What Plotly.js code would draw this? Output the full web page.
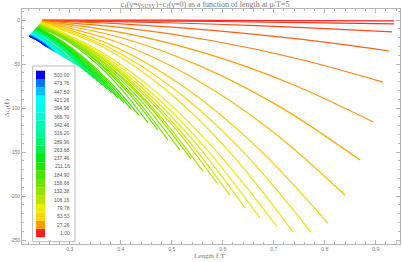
<!DOCTYPE html>
<html><head><meta charset="utf-8">
<script src="https://cdn.plot.ly/plotly-3.0.1.min.js"></script>
<style>html,body{margin:0;padding:0;background:#fff;} #chart{width:402px;height:262px;}</style>
</head><body><div id="chart"></div><script>
// Length ℓT sample points for each curve (red first, blue last)
const curveLengths = [
[0.2457,0.4183,0.5909,0.7634,0.936],
[0.2457,0.4183,0.5909,0.7634,0.936],
[0.2457,0.4173,0.5889,0.7604,0.932],
[0.2457,0.4158,0.5859,0.7559,0.926],
[0.2457,0.4128,0.5799,0.7469,0.914],
[0.2457,0.408,0.5704,0.7327,0.895],
[0.2457,0.4015,0.5574,0.7132,0.869],
[0.2451,0.3938,0.5426,0.6913,0.840],
[0.2445,0.3849,0.5253,0.6656,0.806],
[0.2439,0.3762,0.5085,0.6407,0.773],
[0.2433,0.367,0.4907,0.6143,0.738],
[0.2427,0.3588,0.4749,0.5909,0.707],
[0.2421,0.3498,0.4576,0.5653,0.673],
[0.2415,0.3421,0.4428,0.5434,0.644],
[0.241,0.3343,0.4275,0.5208,0.614],
[0.2404,0.3276,0.4147,0.5019,0.589],
[0.2398,0.3201,0.4004,0.4807,0.561],
[0.2392,0.3139,0.3886,0.4633,0.538],
[0.2386,0.308,0.3773,0.4467,0.516],
[0.238,0.3018,0.3655,0.4293,0.493],
[0.2374,0.2963,0.3552,0.4141,0.473],
[0.2368,0.291,0.3452,0.3993,0.4535],
[0.2362,0.2862,0.3361,0.3861,0.436],
[0.2356,0.2817,0.3278,0.3739,0.42],
[0.235,0.2779,0.3208,0.3636,0.4065],
[0.2344,0.2745,0.3146,0.3546,0.3947],
[0.2338,0.2711,0.3084,0.3457,0.383],
[0.2332,0.2682,0.3031,0.3381,0.373],
[0.2327,0.2654,0.298,0.3307,0.3633],
[0.2321,0.263,0.2938,0.3247,0.3555],
[0.2315,0.2605,0.2896,0.3186,0.3476],
[0.2309,0.2581,0.2854,0.3126,0.3398],
[0.2303,0.2557,0.2812,0.3066,0.332],
[0.2297,0.2538,0.2779,0.3019,0.326],
[0.2291,0.2519,0.2747,0.2974,0.3202],
[0.2285,0.2714,0.3143],
[0.2279,0.2682,0.3084],
[0.2273,0.2649,0.3025],
[0.2267,0.2617,0.2967],
[0.2261,0.2594,0.2927],
[0.2255,0.2572,0.2888],
[0.2249,0.2549,0.2849],
[0.2244,0.2527,0.281],
[0.2238,0.2505,0.2771],
[0.2232,0.2482,0.2731],
[0.2226,0.2459,0.2692],
[0.222,0.2437,0.2653],
[0.2214,0.2414,0.2614],
[0.2208,0.2392,0.2575],
[0.2202,0.2369,0.2535]
];
// Δc_ℓ values for each curve
const curveDeltaC = [
[0,-0.13,-0.36,-0.68,-1.1],
[-0.4,-0.89,-1.73,-2.94,-4.5],
[-0.6,-2.15,-4.83,-8.65,-13.6],
[-0.8,-4.9,-12.0,-22.1,-35.2],
[-1.0,-9.3,-23.6,-44.0,-70.5],
[-1.2,-14.9,-38.5,-72.2,-115.9],
[-1.4,-20.2,-52.7,-99.0,-159.1],
[-1.8,-25.3,-65.9,-123.8,-198.9],
[-2.2,-29.4,-76.5,-143.6,-230.7],
[-2.6,-31.0,-80.1,-150.1,-240.9],
[-3.0,-31.3,-80.3,-150.3,-240.9],
[-3.4,-35.3,-84.5,-151.2,-235.2],
[-3.8,-34.2,-81.2,-144.8,-225.0],
[-4.2,-33.0,-77.5,-137.7,-213.6],
[-4.6,-31.3,-72.6,-128.5,-198.9],
[-5.0,-29.8,-68.1,-119.9,-185.2],
[-5.4,-28.3,-63.6,-111.4,-171.6],
[-5.7,-26.6,-59.0,-102.8,-158.0],
[-6.1,-25.6,-55.7,-96.4,-147.7],
[-6.5,-24.4,-52.0,-89.3,-136.4],
[-6.9,-23.1,-48.2,-82.2,-125.0],
[-7.3,-22.4,-45.7,-77.2,-117.0],
[-7.7,-24.4,-46.7,-74.7,-108.4],
[-8.1,-23.5,-44.1,-69.9,-100.9],
[-8.5,-22.7,-41.8,-65.7,-94.4],
[-8.9,-22.2,-39.9,-62.2,-88.9],
[-9.3,-21.5,-37.9,-58.5,-83.2],
[-9.7,-21.1,-36.4,-55.5,-78.5],
[-10.1,-20.7,-34.8,-52.6,-73.9],
[-10.5,-20.4,-33.6,-50.2,-70.1],
[-10.9,-20.1,-32.4,-47.8,-66.4],
[-11.3,-19.8,-31.2,-45.5,-62.7],
[-11.7,-19.5,-30.0,-43.2,-59.0],
[-12.1,-19.4,-29.2,-41.5,-56.3],
[-12.5,-19.3,-28.4,-39.7,-53.4],
[-12.9,-29.3,-51.4],
[-13.3,-28.6,-49.3],
[-13.7,-27.9,-47.2],
[-14.1,-27.3,-45.1],
[-14.4,-26.9,-43.8],
[-14.8,-26.5,-42.4],
[-15.2,-26.2,-41.0],
[-15.6,-25.8,-39.6],
[-16.0,-25.4,-38.2],
[-16.4,-25.1,-36.8],
[-16.8,-24.8,-35.5],
[-17.2,-24.4,-34.1],
[-17.6,-24.0,-32.7],
[-18.0,-23.7,-31.3],
[-18.4,-23.3,-29.9]
];
// legend labels, bottom (1.00) to top (500.00)
const legendLabels = ['1.00','27.26','53.53','79.78','106.16','132.38','158.66','184.90','211.16','237.46',
  '263.68','289.96','316.20','342.46','368.70','394.96','421.26','447.50','473.76','500.00'];
const xTickVals = [0.3,0.4,0.5,0.6,0.7,0.8,0.9];
const yTickVals = [0,-50,-100,-150,-200,-250];

// style palette (bottom to top of the legend)
const palette = ['#ff2020','#ff9c00','#ffd600','#ecee00','#bce600','#94e400','#6ce400','#46e400','#22e600','#00e818',
  '#00f048','#00f474','#00f896','#00fab4','#00fcd0','#00fde8','#00ffff','#00c0ff','#0078ff','#0000ff'];

function hexRgb(h){return [parseInt(h.substr(1,2),16),parseInt(h.substr(3,2),16),parseInt(h.substr(5,2),16)];}
function paletteAt(f){
  const p = f*(palette.length-1); const i = Math.min(Math.floor(p), palette.length-2); const t = p-i;
  const a = hexRgb(palette[i]), b = hexRgb(palette[i+1]);
  return 'rgb('+a.map((v,k)=>Math.round(v+(b[k]-v)*t)).join(',')+')';
}

const N = curveLengths.length;
const traces = curveLengths.map((xs,i)=>({
  x: xs, y: curveDeltaC[i], type:'scatter', mode:'lines',
  line:{color: paletteAt(Math.pow(i/(N-1),1.3)), width:1.2, shape:'spline'},
  hoverinfo:'skip', showlegend:false
}));

const W=402,H=262,ML=22,MR=2,MT=9,MB=18;
const pw=W-ML-MR, ph=H-MT-MB;
const pxX = p => (p-ML)/pw;
const pxY = p => (H-MB-p)/ph;

const shapes = [{type:'rect', xref:'paper', yref:'paper', x0:pxX(32.7), x1:pxX(75), y0:pxY(241.7), y1:pxY(66),
  fillcolor:'#ffffff', line:{color:'#bbbbbb', width:1}, layer:'above'}];
const annotations = [];
const rowH = (237.3-70.7)/legendLabels.length;
legendLabels.forEach((lab,j)=>{
  const top = 237.3 - (j+1)*rowH;
  shapes.push({type:'rect', xref:'paper', yref:'paper', x0:pxX(36), x1:pxX(45), y0:pxY(top+rowH), y1:pxY(top),
    fillcolor: palette[j], line:{width:0}, layer:'above'});
  annotations.push({xref:'paper', yref:'paper', x:pxX(72), y:pxY(top+rowH/2), text:lab, showarrow:false,
    xanchor:'right', yanchor:'middle', font:{family:'Liberation Sans', size:5, color:'#555'}});
});
annotations.push({xref:'paper', yref:'paper', x:pxX(7), y:pxY(108), text:'Δc<sub>ℓ</sub>(ℓ)', textangle:-90,
  showarrow:false, xanchor:'center', yanchor:'middle', font:{family:'Liberation Serif', size:7, color:'#777'}});
annotations.push({xref:'paper', yref:'paper', x:pxX(210), y:pxY(256), text:'Length ℓ T',
  showarrow:false, xanchor:'center', yanchor:'middle', font:{family:'Liberation Serif', size:7, color:'#777'}});

const axisCommon = {showgrid:false, zeroline:false, showline:true, linecolor:'#b4b4b4', linewidth:1, mirror:'ticks',
  ticks:'inside', ticklen:4, tickwidth:1, tickcolor:'#b4b4b4', tickfont:{family:'Liberation Sans', size:5, color:'#777'}};

const layout = {
  width:W, height:H, margin:{l:ML,r:MR,t:MT,b:MB,pad:0},
  paper_bgcolor:'#fff', plot_bgcolor:'#fff', showlegend:false,
  title:{text:'c<sub>ℓ</sub>(γ=γ<sub>SUSY</sub>)−c<sub>ℓ</sub>(γ=0) as a function of length at μ/T=5',
    x:0.51, xanchor:'center', y:0.985, yanchor:'middle', yref:'container',
    font:{family:'Liberation Serif', size:8, color:'#777'}},
  xaxis: Object.assign({}, axisCommon, {range:[0.2065,0.9476], tickvals:xTickVals, ticktext:xTickVals.map(v=>v.toFixed(1)),
    minor:{dtick:0.02, tick0:0, ticks:'inside', ticklen:2, tickcolor:'#b4b4b4'}}),
  yaxis: Object.assign({}, axisCommon, {range:[-254.5,12.5], tickvals:yTickVals, ticktext:yTickVals.map(v=>String(v)),
    minor:{dtick:10, tick0:0, ticks:'inside', ticklen:2, tickcolor:'#b4b4b4'}}),
  shapes: shapes, annotations: annotations
};
Plotly.newPlot('chart', traces, layout, {staticPlot:true, displayModeBar:false});
</script></body></html>
